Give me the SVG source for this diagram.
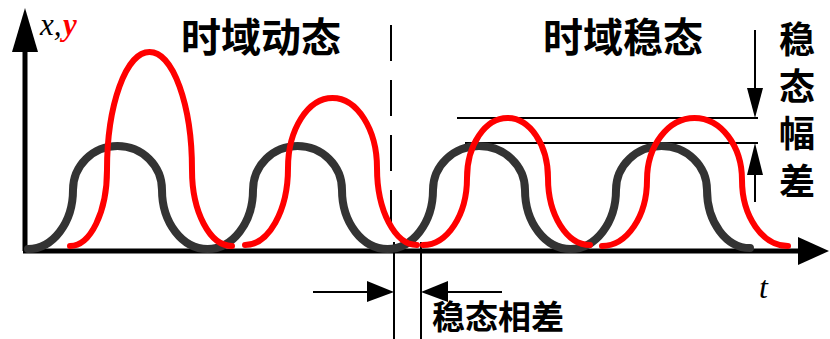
<svg xmlns="http://www.w3.org/2000/svg" width="830" height="339" viewBox="0 0 830 339">
<style>
.ax{stroke:#000;stroke-width:5;fill:none}
.thin{stroke:#000;stroke-width:2;fill:none}
.blk{stroke:#333;stroke-width:8;fill:none;stroke-linecap:round}
.red{stroke:#ff0000;stroke-width:6;fill:none;stroke-linecap:round}
.cjk{font-family:"Noto Sans CJK SC","Noto Sans",sans-serif;font-weight:bold;fill:#000}
.ser{font-family:"Liberation Serif",serif;font-style:italic}
</style>
<rect width="830" height="339" fill="#fff"/>
<g id="connectors">
  <line class="ax" x1="25" y1="251" x2="25" y2="48"/>
  <polygon points="25,8 12,52 38,52" fill="#000"/>
  <line class="ax" x1="23" y1="251" x2="800" y2="251"/>
  <polygon points="829,251 798,237 798,265" fill="#000"/>
  <line x1="391" y1="25" x2="391" y2="250" stroke="#000" stroke-width="2" stroke-dasharray="36 19"/>
  <line class="thin" x1="394" y1="242" x2="394" y2="339"/>
  <line class="thin" x1="421" y1="242" x2="421" y2="339"/>
  <line class="thin" x1="313" y1="292" x2="368" y2="292"/>
  <polygon points="394,292 367,281 367,302" fill="#000"/>
  <line class="thin" x1="446" y1="292" x2="502" y2="292"/>
  <polygon points="421,292 448,281 448,302" fill="#000"/>
  <line class="thin" x1="457" y1="118" x2="758" y2="118"/>
  <line class="thin" x1="465" y1="143" x2="758" y2="143"/>
  <line class="thin" x1="755" y1="30" x2="755" y2="90"/>
  <polygon points="755,118 747,88 763,88" fill="#000"/>
  <line class="thin" x1="755" y1="173" x2="755" y2="202"/>
  <polygon points="755,143 747,175 763,175" fill="#000"/>
</g>
<g id="x-curve">
  <path class="blk" d="M28 249 A45 59 0 0 0 73 190 A44.5 44 0 0 1 162 190 A45.5 59 0 0 0 253 190 A44.5 44 0 0 1 342 190 A45.5 59 0 0 0 433 190 A46 44 0 0 1 525 190 A45.5 59 0 0 0 616 190 A45.5 44 0 0 1 707 190 A43 58 0 0 0 750 248"/>
</g>
<g id="y-curve">
  <path class="red" d="M70 246 A37 76 0 0 0 107 170 A42.5 118 0 0 1 192 170 A40 76 0 0 0 232 246"/>
  <path class="red" d="M245 245 A43 77 0 0 0 288 168 A44.5 70 0 0 1 377 168 A40 77 0 0 0 417 245"/>
  <path class="red" d="M423 245 A44 67 0 0 0 467 178 A40.5 60 0 0 1 548 178 A42 67 0 0 0 590 245"/>
  <path class="red" d="M602 246 A45 66 0 0 0 647 180 A47.5 62 0 0 1 742 180 A46 66 0 0 0 788 246"/>
</g>
<g id="labels">
  <text class="ser" x="40" y="35" font-size="31" fill="#000">x,</text>
  <text class="ser" x="63" y="35" font-size="31" font-weight="bold" fill="#ff0000">y</text>
  <text class="ser" x="759" y="298" font-size="32" fill="#000">t</text>
  <text class="cjk" x="181" y="52" font-size="40">时域动态</text>
  <text class="cjk" x="543" y="52" font-size="40">时域稳态</text>
  <text class="cjk" x="797" y="53" font-size="36" text-anchor="middle">稳</text>
  <text class="cjk" x="797" y="100" font-size="36" text-anchor="middle">态</text>
  <text class="cjk" x="797" y="147" font-size="36" text-anchor="middle">幅</text>
  <text class="cjk" x="797" y="195" font-size="36" text-anchor="middle">差</text>
  <text class="cjk" x="432" y="329" font-size="33">稳态相差</text>
</g>
</svg>
